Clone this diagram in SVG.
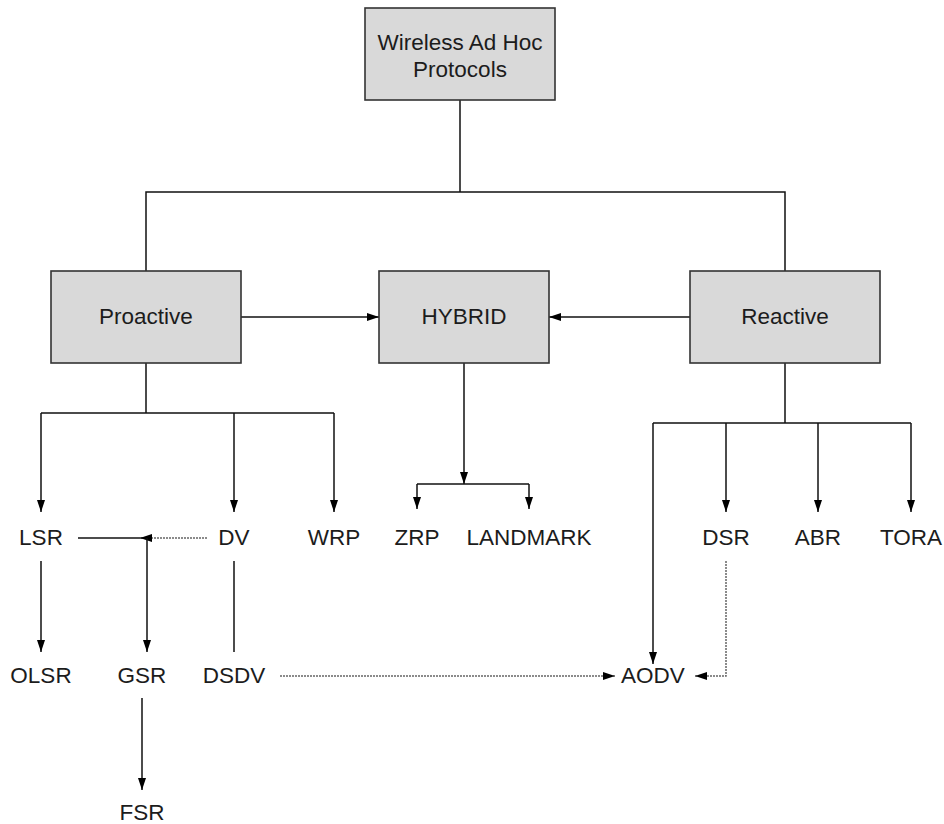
<svg xmlns="http://www.w3.org/2000/svg" width="944" height="824" viewBox="0 0 944 824">
  <defs>
    <marker id="arrow" viewBox="0 0 12 10" refX="12" refY="5" markerWidth="12" markerHeight="10" markerUnits="userSpaceOnUse" orient="auto">
      <path d="M0,1 L12,5 L0,9 Z" fill="#000"/>
    </marker>
    <style>
      .box { fill: #d9d9d9; stroke: #333; stroke-width: 1.6; }
      .lbl { font-family: "Liberation Sans", Arial, sans-serif; font-size: 22.5px; fill: #1c1c1c; text-anchor: middle; }
      .ln { fill: none; stroke: #111; stroke-width: 1.5; }
      .dot { fill: none; stroke: #666; stroke-width: 1.5; stroke-dasharray: 2 1; }
      .arr { marker-end: url(#arrow); }
    </style>
  </defs>
  <rect width="944" height="824" fill="#fff"/>

  <!-- connectors -->
  <g id="connectors">
    <!-- root to categories -->
    <path class="ln" d="M460,100 V192 M146,271 V192 H785 V271"/>
    <path class="ln arr" d="M241,317 H379"/>
    <path class="ln arr" d="M690,317 H549"/>
    <!-- proactive branches -->
    <path class="ln" d="M146,363 V413 M41,413 H334"/>
    <path class="ln arr" d="M41,413 V512"/>
    <path class="ln arr" d="M234,413 V512"/>
    <path class="ln arr" d="M334,413 V512"/>
    <!-- hybrid branches -->
    <path class="ln arr" d="M464,363 V484"/>
    <path class="ln" d="M417,484 H529"/>
    <path class="ln arr" d="M417,484 V509"/>
    <path class="ln arr" d="M529,484 V509"/>
    <!-- reactive branches -->
    <path class="ln" d="M785,363 V423 M653,423 H911"/>
    <path class="ln arr" d="M653,423 V664"/>
    <path class="ln arr" d="M726,423 V512"/>
    <path class="ln arr" d="M818,423 V512"/>
    <path class="ln arr" d="M911,423 V512"/>
    <!-- second level -->
    <path class="ln" d="M78,538 H147"/>
    <path class="dot arr" d="M207,538 H140"/>
    <path class="ln arr" d="M147,538 V652"/>
    <path class="ln arr" d="M41,561 V652"/>
    <path class="ln" d="M234,561 V652"/>
    <path class="ln arr" d="M142,698 V790"/>
    <path class="dot arr" d="M280,676 H615"/>
    <path class="dot arr" d="M726,561 V676 H695"/>
  </g>

  <!-- nodes -->
  <g id="root">
    <rect class="box" x="365" y="8" width="190" height="92"/>
    <text class="lbl" x="460" y="50">Wireless Ad Hoc</text>
    <text class="lbl" x="460" y="77">Protocols</text>
  </g>
  <g id="proactive">
    <rect class="box" x="51" y="271" width="190" height="92"/>
    <text class="lbl" x="146" y="324">Proactive</text>
  </g>
  <g id="hybrid">
    <rect class="box" x="379" y="271" width="170" height="92"/>
    <text class="lbl" x="464" y="324">HYBRID</text>
  </g>
  <g id="reactive">
    <rect class="box" x="690" y="271" width="190" height="92"/>
    <text class="lbl" x="785" y="324">Reactive</text>
  </g>
  <g id="lsr"><text class="lbl" x="41" y="545">LSR</text></g>
  <g id="dv"><text class="lbl" x="234" y="545">DV</text></g>
  <g id="wrp"><text class="lbl" x="334" y="545">WRP</text></g>
  <g id="zrp"><text class="lbl" x="417" y="545">ZRP</text></g>
  <g id="landmark"><text class="lbl" x="529" y="545">LANDMARK</text></g>
  <g id="dsr"><text class="lbl" x="726" y="545">DSR</text></g>
  <g id="abr"><text class="lbl" x="818" y="545">ABR</text></g>
  <g id="tora"><text class="lbl" x="911" y="545">TORA</text></g>
  <g id="olsr"><text class="lbl" x="41" y="683">OLSR</text></g>
  <g id="gsr"><text class="lbl" x="142" y="683">GSR</text></g>
  <g id="dsdv"><text class="lbl" x="234" y="683">DSDV</text></g>
  <g id="aodv"><text class="lbl" x="653" y="683">AODV</text></g>
  <g id="fsr"><text class="lbl" x="142" y="820">FSR</text></g>
</svg>
